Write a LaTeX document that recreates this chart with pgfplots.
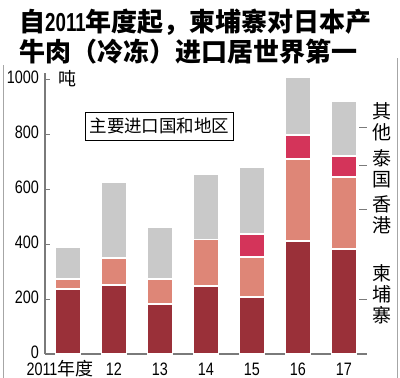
\documentclass[border=0pt]{standalone}
\usepackage{fontspec}
\usepackage{pgfplots}
\pgfplotsset{compat=1.18}
\setmainfont{Noto Sans CJK SC}
\newfontfamily\cjk{Noto Sans CJK SC}
\newfontfamily\numfont[FakeStretch=0.8]{Liberation Sans}
\newfontfamily\titlenum[FakeStretch=0.72]{Liberation Sans}
\definecolor{cam}{HTML}{9A3039}
\definecolor{hk}{HTML}{DE8677}
\definecolor{thai}{HTML}{D4345A}
\definecolor{oth}{HTML}{C9C9C9}
\definecolor{axgray}{HTML}{7A7A7A}
\begin{document}
\begin{tikzpicture}[x=1pt,y=1pt]
\useasboundingbox (0,0) rectangle (400,378);
\fill[white] (0,0) rectangle (400,378);
\draw[gray!70, line width=1pt] (3,0) -- (3,313);
\draw[gray!70, line width=1pt] (397,0) -- (397,320);
\begin{axis}[
  at={(45pt,24pt)}, anchor=south west,
  scale only axis, width=322pt, height=281pt,
  xmin=-0.5, xmax=6.5, ymin=0, ymax=1022,
  axis x line=bottom, axis y line=left,
  axis line style={-, draw=axgray, line width=1.2pt},
  ybar stacked, bar width=25pt,
  xtick={0,1,2,3,4,5,6},
  xticklabels={\hspace*{-16pt}2011{\cjk 年度},12,13,14,15,16,17},
  xtick style={draw=none},
  ytick={0,200,400,600,800,1000},
  tick align=inside,
  major tick length=5pt,
  ytick style={draw=axgray, line width=1pt},
  yticklabel style={font=\numfont\fontsize{18}{18}\selectfont, inner sep=0pt, xshift=-6pt, yshift=2pt, text height=13pt, text depth=0pt},
  xticklabel style={font=\numfont\fontsize{18}{18}\selectfont, inner sep=0pt, text height=13pt, text depth=0pt, yshift=-8pt},
  /pgf/number format/assume math mode=true,
  /pgf/number format/1000 sep={},
  clip=false,
  every axis plot/.append style={draw=white, line width=1.3pt},
]
\addplot[fill=cam] coordinates {(0,236) (1,251) (2,182) (3,247) (4,207) (5,411) (6,382)};
\addplot[fill=hk] coordinates {(0,37) (1,98) (2,91) (3,170) (4,146) (5,298) (6,262)};
\addplot[fill=thai] coordinates {(0,0) (1,0) (2,0) (3,0) (4,83) (5,87) (6,76)};
\addplot[fill=oth] coordinates {(0,116) (1,276) (2,189) (3,238) (4,244) (5,211) (6,200)};
\draw[axgray, line width=1pt] (axis cs:6.33,825) -- (axis cs:6.5,825);
\draw[axgray, line width=1pt] (axis cs:6.33,684) -- (axis cs:6.5,684);
\draw[axgray, line width=1pt] (axis cs:6.33,524) -- (axis cs:6.5,524);
\draw[axgray, line width=1pt] (axis cs:6.33,200) -- (axis cs:6.5,200);
\end{axis}
% title
\node[anchor=west, inner sep=0pt] at (19,356) {\fontsize{26}{26}\selectfont\bfseries 自{\titlenum\bfseries 2011}年度起，柬埔寨对日本产};
\node[anchor=west, inner sep=0pt] at (19,326) {\fontsize{26}{26}\selectfont\bfseries 牛肉（冷冻）进口居世界第一};
% unit
\node[inner sep=0pt] at (67,299) {\fontsize{18}{18}\selectfont 吨};
% legend box
\node[draw=black, line width=0.8pt, inner xsep=4pt, inner ysep=4pt, minimum height=28pt, fill=white] at (159.5,252) {\fontsize{17.5}{17.5}\selectfont 主要进口国和地区};
% right labels
\tikzset{vlab/.style={align=center, inner sep=0pt, font=\fontsize{19}{21}\selectfont}}
\node[vlab] at (382,256) {其\\他};
\node[vlab] at (382,209) {泰\\国};
\node[vlab] at (382,163) {香\\港};
\node[vlab] at (382,84) {柬\\埔\\寨};
\end{tikzpicture}
\end{document}
